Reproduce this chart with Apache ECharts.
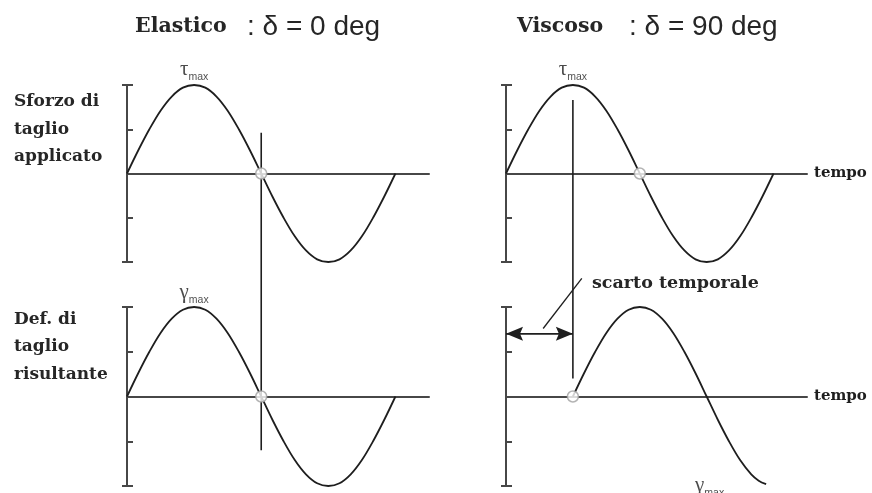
<!DOCTYPE html>
<html>
<head>
<meta charset="utf-8">
<script src="https://cdn.jsdelivr.net/npm/echarts@6/dist/echarts.min.js"></script>
<style>
  html, body { margin: 0; padding: 0; background: #ffffff; }
  #chart { width: 872px; height: 493px; }
</style>
</head>
<body>
<div id="chart"></div>
<script>
// Phase of the oscillation (degrees) at each sampled point
const phase = [0, 15, 30, 45, 60, 75, 90, 105, 120, 135, 150, 165, 180,
               195, 210, 225, 240, 255, 270, 285, 300, 315, 330, 345, 360];
// Applied shear stress, normalised to tau_max
const appliedStress = [0, 0.26, 0.5, 0.71, 0.87, 0.97, 1, 0.97, 0.87, 0.71, 0.5, 0.26, 0,
                       -0.26, -0.5, -0.71, -0.87, -0.97, -1, -0.97, -0.87, -0.71, -0.5, -0.26, 0];
// Resulting shear strain of the elastic solid (in phase with the stress)
const elasticStrain = [0, 0.26, 0.5, 0.71, 0.87, 0.97, 1, 0.97, 0.87, 0.71, 0.5, 0.26, 0,
                       -0.26, -0.5, -0.71, -0.87, -0.97, -1, -0.97, -0.87, -0.71, -0.5, -0.26, 0];
// Resulting shear strain of the viscous fluid (lagging by 90 deg)
const viscousPhase = [90, 105, 120, 135, 150, 165, 180, 195, 210, 225, 240, 255, 270,
                      285, 300, 315, 330, 340, 350];
const viscousStrain = [0, 0.26, 0.5, 0.71, 0.87, 0.97, 1, 0.97, 0.87, 0.71, 0.5, 0.26, 0,
                       -0.26, -0.5, -0.71, -0.87, -0.94, -0.98];
// Zero crossings marked with open circles: [grid, phase]
const crossings = [[0, 180], [1, 180], [2, 180], [3, 90]];
// Amplitude ticks on the vertical axes
const yMin = -1, yMax = 1, yStep = 0.5;
const capTicks = [-1, 1];
const phaseMax = 405;

const INK = '#1e1e1e';
const AXIS = '#474747';
const SERIF = '"DejaVu Serif", "Liberation Serif", serif';
const SANS = '"Liberation Sans", Arial, sans-serif';

const grids = [
  { left: 127, top: 85, width: 302, height: 177 },
  { left: 127, top: 307, width: 302, height: 179 },
  { left: 506, top: 85, width: 301, height: 177 },
  { left: 506, top: 307, width: 301, height: 179 }
];

const xAxes = grids.map((g, i) => ({
  type: 'value', gridIndex: i, min: 0, max: phaseMax,
  axisLine: { show: true, onZero: true, lineStyle: { color: AXIS, width: 2 } },
  axisTick: { show: false }, axisLabel: { show: false }, splitLine: { show: false },
  name: i >= 2 ? 'tempo' : '',
  nameLocation: 'end', nameGap: 7,
  nameTextStyle: { fontFamily: SERIF, fontWeight: 'bold', fontSize: 15, color: INK }
}));

const yAxes = [];
grids.forEach((g, i) => {
  yAxes.push({
    type: 'value', gridIndex: i, min: yMin, max: yMax, interval: yStep, position: 'left',
    axisLine: { show: true, onZero: false, lineStyle: { color: AXIS, width: 2 } },
    axisTick: { show: true, inside: true, length: 6, lineStyle: { color: AXIS, width: 2 } },
    axisLabel: { show: false }, splitLine: { show: false }
  });
  yAxes.push({
    type: 'value', gridIndex: i, min: yMin, max: yMax, position: 'left', offset: 0,
    axisLine: { show: false },
    axisTick: { show: true, inside: false, length: 5, customValues: capTicks, lineStyle: { color: AXIS, width: 2 } },
    axisLabel: { show: false }, splitLine: { show: false }
  });
});

function pairs(xs, ys) { return xs.map((x, k) => [x, ys[k]]); }

function curve(i, xs, ys) {
  return {
    type: 'line', xAxisIndex: i, yAxisIndex: 2 * i, data: pairs(xs, ys),
    smooth: 0.35, showSymbol: false, silent: true, z: 3,
    lineStyle: { color: INK, width: 1.8 }
  };
}

function maxLabel(i, point, letter, pos, dist) {
  return {
    type: 'scatter', xAxisIndex: i, yAxisIndex: 2 * i, data: [point],
    symbolSize: 0, silent: true, clip: false, z: 5,
    label: {
      show: true, position: pos, distance: dist,
      formatter: '{g|' + letter + '}{s|max}',
      rich: {
        g: { fontFamily: '"Liberation Serif", serif', fontSize: 21, color: INK, verticalAlign: 'bottom', padding: [0, 0, 3, 0] },
        s: { fontFamily: SANS, fontSize: 10.5, color: INK, verticalAlign: 'bottom' }
      }
    }
  };
}

const series = [
  curve(0, phase, appliedStress),
  curve(1, phase, elasticStrain),
  curve(2, phase, appliedStress),
  curve(3, viscousPhase, viscousStrain),
  maxLabel(0, [90, 1], '\u03C4', 'top', 2),
  maxLabel(1, [90, 1], '\u03B3', 'top', 1),
  maxLabel(2, [90, 1], '\u03C4', 'top', 2),
  maxLabel(3, [274, -1.01], '\u03B3', 'inside', 0)
];
crossings.forEach(([g, x]) => {
  series.push({
    type: 'scatter', xAxisIndex: g, yAxisIndex: 2 * g, data: [[x, 0]],
    symbol: 'circle', symbolSize: 11, silent: true, z: 6,
    itemStyle: { color: '#ffffff', borderColor: '#a0a0a0', borderWidth: 1.5 }
  });
});

const chart = echarts.init(document.getElementById('chart'));
chart.setOption({
  backgroundColor: '#ffffff',
  animation: false,
  grid: grids,
  xAxis: xAxes,
  yAxis: yAxes,
  series: series
});

// Annotation overlay positioned through the axes' own scales
const px = (g, p) => chart.convertToPixel({ gridIndex: g }, p);

function seg(a, b, w) {
  return { type: 'line', z: 4, silent: true,
    shape: { x1: a[0], y1: a[1], x2: b[0], y2: b[1] },
    style: { stroke: INK, lineWidth: w } };
}
function head(tip, dir) {
  const L = 17, H = 7, N = 3;
  return { type: 'polygon', z: 4, silent: true,
    shape: { points: [
      [tip[0], tip[1]],
      [tip[0] + dir * L, tip[1] - H],
      [tip[0] + dir * (L - N), tip[1]],
      [tip[0] + dir * L, tip[1] + H]
    ] },
    style: { fill: INK } };
}
function txt(x, y, text, font, size, weight) {
  return { type: 'text', silent: true, z: 5,
    style: { x: x, y: y, text: text, fontFamily: font, fontSize: size, fontWeight: weight,
      fill: '#262626', verticalAlign: 'middle', textAlign: 'left' } };
}

const arrowL = px(3, [0, 0.7]);
const arrowR = px(3, [90, 0.7]);

const graphic = [
  // phase reference lines
  seg(px(0, [180, 0.46]), px(1, [180, -0.6]), 1.6),
  seg(px(2, [90, 0.83]), px(3, [90, 0.2]), 1.6),
  // time lag dimension
  seg(arrowL, arrowR, 1.8),
  head(arrowL, 1),
  head(arrowR, -1),
  seg(px(3, [50, 0.76]), px(3, [102, 1.32]), 1.3),
  // titles
  txt(135, 27, 'Elastico', SERIF, 20.5, 'bold'),
  txt(247, 27, ': \u03B4 = 0 deg', SANS, 28, 'normal'),
  txt(517, 27, 'Viscoso', SERIF, 20.5, 'bold'),
  txt(629, 27, ': \u03B4 = 90 deg', SANS, 28, 'normal'),
  // panel labels
  txt(14, 102, 'Sforzo di', SERIF, 17, 'bold'),
  txt(14, 130, 'taglio', SERIF, 17, 'bold'),
  txt(14, 157, 'applicato', SERIF, 17, 'bold'),
  txt(14, 320, 'Def. di', SERIF, 17, 'bold'),
  txt(14, 347, 'taglio', SERIF, 17, 'bold'),
  txt(14, 375, 'risultante', SERIF, 17, 'bold'),
  txt(592, 283, 'scarto temporale', SERIF, 17.5, 'bold')
];
chart.setOption({ graphic: graphic });
</script>
</body>
</html>
